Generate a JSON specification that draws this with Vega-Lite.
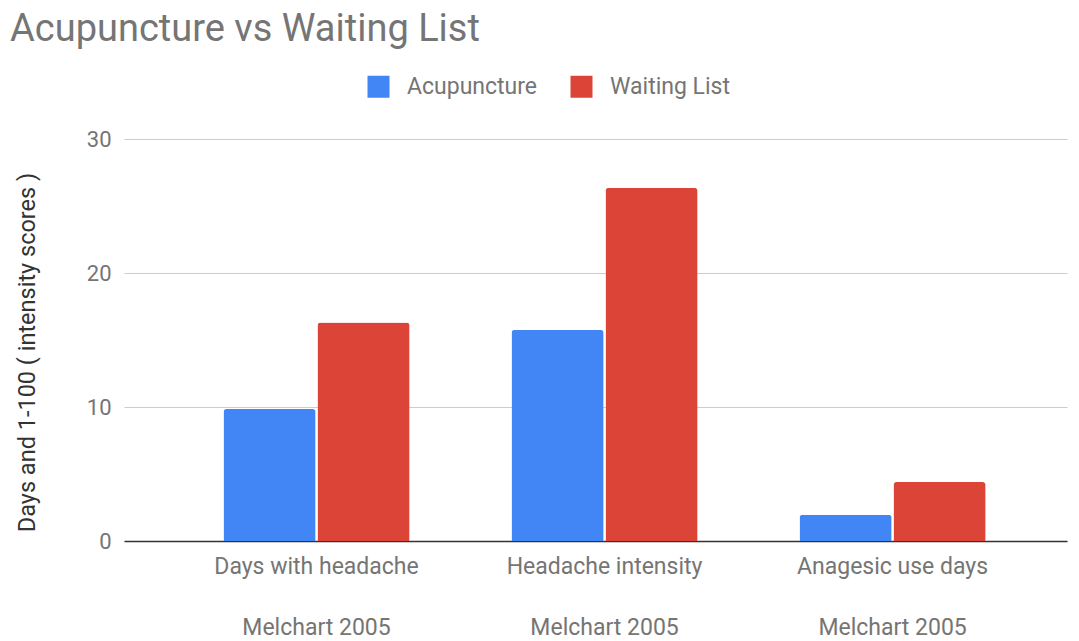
{
  "$schema": "https://vega.github.io/schema/vega-lite/v6.json",
  "width": 943,
  "height": 402,
  "autosize": {"type": "none"},
  "padding": {"left": 124, "top": 139, "right": 12, "bottom": 100},
  "background": "white",
  "config": {
    "font": "Roboto",
    "view": {"stroke": null}
  },
  "title": {
    "text": "Acupuncture vs Waiting List",
    "anchor": "start",
    "frame": "group",
    "dx": -114,
    "fontSize": 38,
    "fontWeight": "normal",
    "color": "#757575",
    "font": "Roboto",
    "offset": 26
  },
  "data": {
    "values": [
      {"measure": "Days with headache", "group": "Acupuncture", "value": 9.85},
      {"measure": "Days with headache", "group": "Waiting List", "value": 16.3},
      {"measure": "Headache intensity", "group": "Acupuncture", "value": 15.75},
      {"measure": "Headache intensity", "group": "Waiting List", "value": 26.35},
      {"measure": "Anagesic use days", "group": "Acupuncture", "value": 1.95},
      {"measure": "Anagesic use days", "group": "Waiting List", "value": 4.4}
    ]
  },
  "mark": {"type": "bar", "cornerRadiusTopLeft": 3, "cornerRadiusTopRight": 3},
  "encoding": {
    "x": {
      "field": "measure",
      "type": "nominal",
      "sort": null,
      "scale": {"paddingInner": 0.354, "paddingOuter": 0.314, "align": 0.55},
      "axis": {
        "title": null,
        "labelAngle": 0,
        "ticks": false,
        "domainColor": "#333333",
        "domainWidth": 1.5,
        "labelColor": "#757575",
        "labelFontSize": 23,
        "labelFont": "Roboto",
        "labelPadding": 14,
        "labelLimit": 400,
        "labelLineHeight": 61,
        "labelExpr": "[datum.label, 'Melchart 2005']"
      }
    },
    "xOffset": {
      "field": "group",
      "type": "nominal",
      "scale": {"paddingInner": 0.02}
    },
    "y": {
      "field": "value",
      "type": "quantitative",
      "scale": {"domain": [0, 30]},
      "axis": {
        "title": "Days and 1-100 ( intensity scores )",
        "titleFontSize": 23.5,
        "titleFontWeight": "normal",
        "titleColor": "#333333",
        "titleFont": "Roboto",
        "titlePadding": 47,
        "titleY": 213,
        "values": [0, 10, 20, 30],
        "domain": false,
        "ticks": false,
        "gridColor": "#cccccc",
        "labelColor": "#757575",
        "labelFontSize": 22,
        "labelPadding": 13
      }
    },
    "color": {
      "field": "group",
      "type": "nominal",
      "scale": {"domain": ["Acupuncture", "Waiting List"], "range": ["#4285F4", "#DB4437"]},
      "legend": {
        "title": null,
        "orient": "none",
        "legendX": 243,
        "legendY": -64,
        "direction": "horizontal",
        "symbolType": "square",
        "symbolSize": 484,
        "symbolStrokeWidth": 0,
        "labelFontSize": 23,
        "labelColor": "#757575",
        "labelFont": "Roboto",
        "labelOffset": 17,
        "columnPadding": 32
      }
    }
  }
}
